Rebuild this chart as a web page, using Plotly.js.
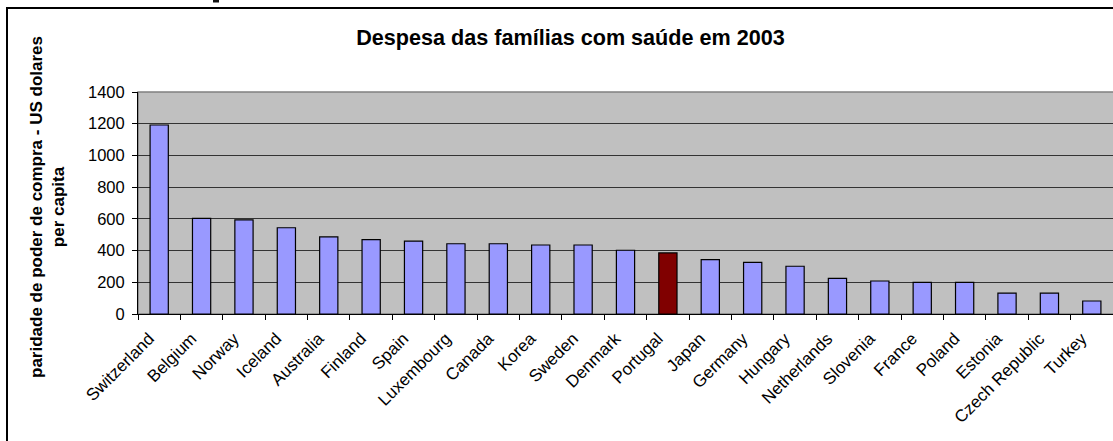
<!DOCTYPE html>
<html>
<head>
<meta charset="utf-8">
<script src="https://cdn.plot.ly/plotly-3.0.1.min.js"></script>
<style>html,body{margin:0;padding:0;background:#fff;}#chart{width:1113px;height:441px;}</style>
</head>
<body>
<div id="chart"></div>
<script>
const countries = ["Switzerland","Belgium","Norway","Iceland","Australia","Finland","Spain","Luxembourg","Canada","Korea","Sweden","Denmark","Portugal","Japan","Germany","Hungary","Netherlands","Slovenia","France","Poland","Estonia","Czech Republic","Turkey"];
const spending = [1192, 603, 593, 544, 486, 469, 460, 443, 443, 435, 435, 402, 385, 343, 326, 301, 225, 208, 200, 200, 132, 132, 82];
const highlight = "Portugal";
const yTicks = [0, 200, 400, 600, 800, 1000, 1200, 1400];
const chartTitle = "Despesa das famílias com saúde em 2003";
const yTitle = "paridade de poder de compra - US dolares<br>per capita";

const barColors = countries.map(c => c === highlight ? "#800000" : "#9999FF");

const W = 1113, H = 441;
const L = 138, R = 0, T = 92, B = 127;
const px2x = p => (p - L) / (W - L - R);
const px2y = p => (H - B - p) / (H - T - B);

const font = "Liberation Sans, Arial, sans-serif";

const trace = {
  type: "bar",
  x: countries,
  y: spending,
  marker: { color: barColors, line: { color: "#000", width: 1.2 } },
  hoverinfo: "x+y"
};

const layout = {
  width: W, height: H,
  margin: { l: L, r: R, t: T, b: B, pad: 0 },
  paper_bgcolor: "#fff",
  plot_bgcolor: "#C0C0C0",
  bargap: 0.57,
  showlegend: false,
  font: { family: font, color: "#000", size: 16 },
  title: {
    text: chartTitle,
    font: { family: font, size: 21.6, color: "#000", weight: "bold" },
    xref: "paper", x: px2x(570.5), xanchor: "center",
    yref: "container", y: 1 - 37 / H, yanchor: "middle"
  },
  xaxis: {
    type: "category",
    range: [-0.5, countries.length - 0.5],
    tickangle: -45,
    ticks: "outside", tickson: "boundaries", ticklen: 5, tickcolor: "#000", tickwidth: 1,
    ticklabelstandoff: 7, ticklabelshift: -10,
    showline: true, linecolor: "#000", linewidth: 1,
    showgrid: false,
    tickfont: { family: font, size: 17, color: "#000" },
    fixedrange: true
  },
  yaxis: {
    range: [0, 1400],
    tickvals: yTicks,
    ticktext: yTicks.map(String),
    ticks: "outside", ticklen: 5, tickcolor: "#000", tickwidth: 1,
    ticklabelstandoff: 4,
    showline: true, linecolor: "#000", linewidth: 1,
    showgrid: true, gridcolor: "#333", gridwidth: 1,
    zeroline: false,
    tickfont: { family: font, size: 16.5, color: "#000" },
    fixedrange: true
  },
  annotations: [
    {
      text: yTitle,
      textangle: -90,
      xref: "paper", yref: "paper",
      x: px2x(47), y: px2y(207),
      xanchor: "center", yanchor: "middle",
      showarrow: false,
      font: { family: font, size: 17, color: "#000", weight: "bold" }
    }
  ],
  shapes: [
    {
      type: "rect", xref: "paper", yref: "paper", layer: "below",
      x0: 0, x1: 1.01, y0: 0, y1: 1,
      line: { color: "#808080", width: 1.5 }, fillcolor: "rgba(0,0,0,0)"
    },
    {
      type: "rect", xref: "paper", yref: "paper", layer: "above",
      x0: px2x(7), x1: px2x(1125), y0: px2y(8), y1: px2y(460),
      line: { color: "#000", width: 2 }, fillcolor: "rgba(0,0,0,0)"
    },
    {
      type: "rect", xref: "paper", yref: "paper", layer: "above",
      x0: px2x(213), x1: px2x(219), y0: px2y(2.5), y1: px2y(-2),
      line: { width: 0 }, fillcolor: "#111"
    }
  ]
};

Plotly.newPlot("chart", [trace], layout, { displayModeBar: false, staticPlot: true });
</script>
</body>
</html>
